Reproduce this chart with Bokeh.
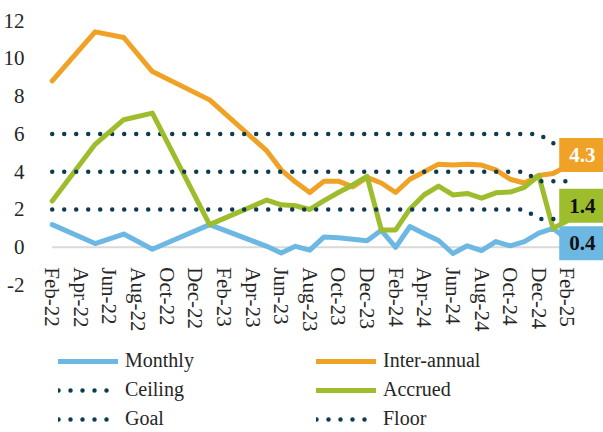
from bokeh.plotting import figure
from bokeh.models import Range1d, FixedTicker, Label, Legend, LegendItem
from bokeh.embed import file_html
from bokeh.resources import INLINE

# ---- data ----
months = ["Feb-22", "Mar-22", "Apr-22", "May-22", "Jun-22", "Jul-22", "Aug-22", "Sep-22",
          "Oct-22", "Nov-22", "Dec-22", "Jan-23", "Feb-23", "Mar-23", "Apr-23", "May-23",
          "Jun-23", "Jul-23", "Aug-23", "Sep-23", "Oct-23", "Nov-23", "Dec-23", "Jan-24",
          "Feb-24", "Mar-24", "Apr-24", "May-24", "Jun-24", "Jul-24", "Aug-24", "Sep-24",
          "Oct-24", "Nov-24", "Dec-24", "Jan-25", "Feb-25"]
tick_labels = ["Feb-22", "Apr-22", "Jun-22", "Aug-22", "Oct-22", "Dec-22", "Feb-23", "Apr-23",
               "Jun-23", "Aug-23", "Oct-23", "Dec-23", "Feb-24", "Apr-24", "Jun-24", "Aug-24",
               "Oct-24", "Dec-24", "Feb-25"]

obs_dates = ["Feb-22", "May-22", "Jul-22", "Sep-22", "Jan-23", "May-23", "Jun-23", "Jul-23",
             "Aug-23", "Sep-23", "Oct-23", "Nov-23", "Dec-23", "Jan-24", "Feb-24", "Mar-24",
             "Apr-24", "May-24", "Jun-24", "Jul-24", "Aug-24", "Sep-24", "Oct-24", "Nov-24",
             "Dec-24", "Jan-25", "Feb-25"]
monthly = [1.2, 0.2, 0.7, -0.1, 1.2, 0.05, -0.3, 0.05, -0.15, 0.55, 0.5, 0.43, 0.35, 0.9,
           0.0, 1.1, 0.72, 0.36, -0.33, 0.08, -0.17, 0.3, 0.08, 0.3, 0.75, 1.0, 0.4]
inter_annual = [8.8, 11.4, 11.1, 9.3, 7.8, 5.1, 4.1, 3.45, 2.9, 3.5, 3.5, 3.2, 3.7, 3.4,
                2.9, 3.6, 4.0, 4.4, 4.35, 4.4, 4.35, 4.1, 3.6, 3.4, 3.8, 3.9, 4.3]
accrued = [2.45, 5.45, 6.75, 7.1, 1.2, 2.5, 2.25, 2.2, 2.0, 2.47, 2.9, 3.3, 3.75, 0.92,
           0.92, 2.03, 2.78, 3.24, 2.77, 2.85, 2.6, 2.88, 2.92, 3.17, 3.8, 1.0, 1.4]

band_dates = ["Feb-22", "Nov-24", "Dec-24", "Jan-25", "Feb-25"]
ceiling = [6, 6, 6, 5.5, 5.5]
goal = [4, 4, 3.5, 3.5, 3.5]
floor = [2, 2, 1.5, 1.5, 1.5]

y_ticks = [-2, 0, 2, 4, 6, 8, 10, 12]

# ---- style ----
BLUE = "#6CB8E3"
ORANGE = "#F0A226"
GREEN = "#9DBD2D"
DOT = "#0D3B4F"
TEXT = "#262626"
FONT = "Liberation Serif"

xs = [months.index(d) for d in obs_dates]
bx = [months.index(d) for d in band_dates]

p = figure(width=603, height=432, x_range=Range1d(-0.818, 38.525), y_range=Range1d(-9.8, 12),
           output_backend="svg", toolbar_location=None, title=None,
           min_border_left=40, min_border_right=0, min_border_top=20, min_border_bottom=0,
           background_fill_color="white", border_fill_color="white", outline_line_color=None)
p.grid.visible = False

# zero (category axis) line across the dated span
p.line([0, len(months) - 1], [0, 0], line_color="#D9D9D9", line_width=2, level="underlay")

# axes
p.yaxis.ticker = FixedTicker(ticks=y_ticks)
p.yaxis.major_label_overrides = {t: str(t) for t in y_ticks}
p.yaxis.axis_line_color = None
p.yaxis.major_tick_line_color = None
p.yaxis.minor_tick_line_color = None
p.yaxis.major_label_text_font = FONT
p.yaxis.major_label_text_font_size = "21px"
p.yaxis.major_label_text_color = TEXT
p.yaxis.major_label_standoff = 10

tick_pos = [months.index(t) for t in tick_labels]
p.xaxis.ticker = FixedTicker(ticks=tick_pos)
p.xaxis.major_label_overrides = {i: t for i, t in zip(tick_pos, tick_labels)}
p.xaxis.major_label_orientation = "vertical"
p.xaxis.fixed_location = 0
p.xaxis.axis_line_color = None
p.xaxis.major_tick_line_color = None
p.xaxis.minor_tick_line_color = None
p.xaxis.major_label_text_font = FONT
p.xaxis.major_label_text_font_size = "21px"
p.xaxis.major_label_text_color = TEXT
p.xaxis.major_label_standoff = 14

solid = dict(line_width=5, line_join="round", line_cap="round")
dotted = dict(line_width=4.5, line_dash="0 12", line_cap="round", line_color=DOT)

r_monthly = p.line(xs, monthly, line_color=BLUE, **solid)
r_inter = p.line(xs, inter_annual, line_color=ORANGE, **solid)
r_ceiling = p.line(bx, ceiling, **dotted)
r_accrued = p.line(xs, accrued, line_color=GREEN, **solid)
r_goal = p.line(bx, goal, **dotted)
r_floor = p.line(bx, floor, **dotted)

leg_style = dict(orientation="vertical", glyph_width=60, glyph_height=22, label_height=22,
                 spacing=6, label_standoff=7, padding=0, margin=0, border_line_color=None,
                 background_fill_alpha=0, label_text_font=FONT, label_text_font_size="20px",
                 label_text_color=TEXT)
leg_left = Legend(items=[LegendItem(label="Monthly", renderers=[r_monthly]),
                         LegendItem(label="Ceiling", renderers=[r_ceiling]),
                         LegendItem(label="Goal", renderers=[r_goal])],
                  location=(18, 2), **leg_style)
leg_right = Legend(items=[LegendItem(label="Inter-annual", renderers=[r_inter]),
                          LegendItem(label="Accrued", renderers=[r_accrued]),
                          LegendItem(label="Floor", renderers=[r_floor])],
                   location=(276, 2), **leg_style)
p.add_layout(leg_left, "center")
p.add_layout(leg_right, "center")

# end-value labels
last_x = xs[-1]
for series, bg, fg, yoff in [(inter_annual, ORANGE, "white", 11),
                             (accrued, GREEN, "#111111", 15),
                             (monthly, BLUE, "#111111", -3.5)]:
    p.add_layout(Label(x=last_x, y=series[-1], text=f"{series[-1]:.1f}",
                       x_offset=15, y_offset=yoff, text_align="center", text_baseline="middle",
                       text_font=FONT, text_font_size="21px", text_font_style="bold",
                       text_color=fg, background_fill_color=bg, padding=(10, 10)))

open("out.html", "w").write(file_html(p, INLINE))
